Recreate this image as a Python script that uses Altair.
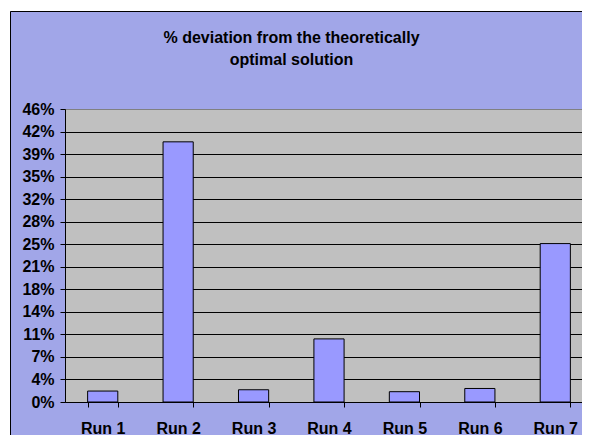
import altair as alt
import pandas as pd

runs = ["Run 1", "Run 2", "Run 3", "Run 4", "Run 5", "Run 6", "Run 7"]
deviation = [1.7, 40.4, 1.9, 9.8, 1.6, 2.1, 24.6]  # percent
y_ticks = [0, 3.5, 7, 10.5, 14, 17.5, 21, 24.5, 28, 31.5, 35, 38.5, 42, 45.5]
title_lines = ["% deviation from the theoretically", "optimal solution"]

df = pd.DataFrame({"run": runs, "dev": deviation})
one = pd.DataFrame({"k": [0]})

FONT = "Liberation Sans"
BG = "#A1A6E8"

bars = alt.Chart(df).mark_bar(fill="#9999FF", stroke="black", strokeWidth=1).encode(
    x=alt.X(
        "run:N",
        sort=runs,
        scale=alt.Scale(paddingInner=0.6, paddingOuter=0.3, range=[0, 528]),
        axis=alt.Axis(
            title=None,
            labelAngle=0,
            labelFont=FONT,
            labelFontSize=16,
            labelFontWeight="bold",
            labelColor="black",
            domainColor="black",
            tickColor="black",
            tickSize=5,
            tickBand="extent",
            labelPadding=13,
            grid=False,
        ),
    ),
    y=alt.Y(
        "dev:Q",
        scale=alt.Scale(domain=[0, 45.5], nice=False, zero=True),
        axis=alt.Axis(
            title=None,
            values=y_ticks,
            labelExpr="round(datum.value) + '%'",
            labelFont=FONT,
            labelFontSize=16,
            labelFontWeight="bold",
            labelColor="black",
            domainColor="black",
            tickColor="black",
            tickSize=5,
            labelPadding=6,
            grid=True,
            gridColor={"condition": {"test": "datum.value >= 45", "value": "#808080"}, "value": "black"},
            gridOpacity=1,
            gridWidth=1,
        ),
    ),
)

# frame decoration outside the plot area (white strip + black border)
white_left = alt.Chart(one).mark_rect(fill="white").encode(
    x=alt.value(-57), x2=alt.value(-55), y=alt.value(-101), y2=alt.value(330)
)
white_top = alt.Chart(one).mark_rect(fill="white").encode(
    x=alt.value(-57), x2=alt.value(530), y=alt.value(-101), y2=alt.value(-98)
)
border_left = alt.Chart(one).mark_rule(color="black", strokeWidth=1).encode(
    x=alt.value(-54.5), y=alt.value(-97.5), y2=alt.value(330)
)
border_top = alt.Chart(one).mark_rule(color="black", strokeWidth=1).encode(
    x=alt.value(-54.5), x2=alt.value(530), y=alt.value(-97.5)
)

title = alt.Chart(one).mark_text(
    text=title_lines,
    font=FONT,
    fontSize=16,
    fontWeight="bold",
    color="black",
    align="center",
    baseline="alphabetic",
    lineHeight=22.3,
).encode(x=alt.value(226.5), y=alt.value(-66.3))

chart = (
    alt.layer(white_left, white_top, border_left, border_top, title, bars)
    .properties(
        width=517,
        height=293,
        padding={"left": 57, "top": 101, "right": 0, "bottom": 33},
        autosize=alt.AutoSizeParams(type="none"),
        background=BG,
    )
    .configure_view(fill="#C0C0C0", stroke="#808080", strokeWidth=1)
)

chart.save("out.html", embed_options={"renderer": "svg", "actions": False})
